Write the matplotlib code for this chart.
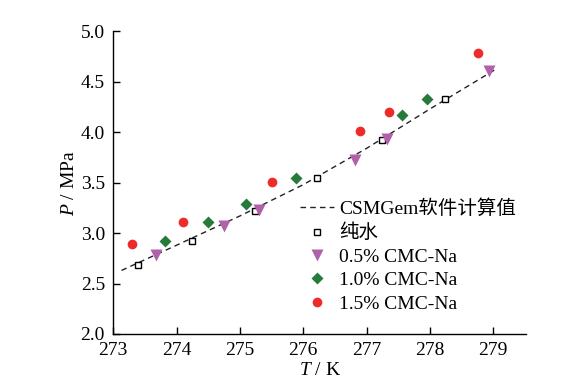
import matplotlib
matplotlib.use("Agg")
import matplotlib.pyplot as plt

plt.rcParams['font.family'] = ['Liberation Serif', 'Noto Sans CJK SC']
plt.rcParams['mathtext.fontset'] = 'custom'
plt.rcParams['mathtext.it'] = 'Liberation Serif:italic'
plt.rcParams['mathtext.rm'] = 'Liberation Serif'

# CSMGem calculated curve
calc_T = [273.13, 274.0, 275.0, 276.0, 277.0, 278.0, 279.03]
calc_P = [2.63, 2.88, 3.17, 3.48, 3.84, 4.23, 4.62]

water_T = [273.39, 274.24, 275.24, 276.22, 277.24, 278.24]
water_P = [2.68, 2.92, 3.22, 3.55, 3.92, 4.33]

cmc05_T = [273.68, 274.75, 275.30, 276.82, 277.33, 278.93]
cmc05_P = [2.78, 3.07, 3.23, 3.72, 3.93, 4.61]

cmc10_T = [273.81, 274.49, 275.09, 275.88, 277.56, 277.96]
cmc10_P = [2.92, 3.11, 3.29, 3.55, 4.17, 4.33]

cmc15_T = [273.30, 274.10, 275.51, 276.89, 277.36, 278.76]
cmc15_P = [2.89, 3.11, 3.51, 4.01, 4.20, 4.79]

labels = ['CSMGem软件计算值', '纯水', '0.5% CMC-Na', '1.0% CMC-Na', '1.5% CMC-Na']
x_ticks = [273, 274, 275, 276, 277, 278, 279]
y_ticks = [2.0, 2.5, 3.0, 3.5, 4.0, 4.5, 5.0]

fig = plt.figure(figsize=(5.75, 3.87), dpi=100)
ax = fig.add_axes([0.197, 0.137, 0.718, 0.782])

ax.plot(calc_T, calc_P, linestyle=(0, (4, 3)), color='#222222', lw=1.0, label=labels[0])
ax.plot(water_T, water_P, 's', ms=5, mfc='white', mec='black', mew=1.0, label=labels[1])
ax.plot(cmc05_T, cmc05_P, 'v', ms=8, color='#b160aa', mec='none', label=labels[2])
ax.plot(cmc10_T, cmc10_P, 'D', ms=6.5, color='#267b3b', mec='none', label=labels[3])
ax.plot(cmc15_T, cmc15_P, 'o', ms=7, color='#ee2b2b', mec='none', label=labels[4])

ax.set_xlim(273, 279.52)
ax.set_ylim(2.0, 5.0)
ax.set_xticks(x_ticks)
ax.set_yticks(y_ticks)
ax.set_yticklabels([f'{v:.1f}' for v in y_ticks])
ax.tick_params(direction='in', length=5, width=1, labelsize=14, pad=6)
for s in ['top', 'right']:
    ax.spines[s].set_visible(False)
for s in ['left', 'bottom']:
    ax.spines[s].set_linewidth(1.0)

ax.set_xlabel(r'$T$ / K', fontsize=14, labelpad=2)
ax.set_ylabel(r'$P$ / MPa', fontsize=14, labelpad=2)

leg = ax.legend(loc='upper left', bbox_to_anchor=(0.42, 0.49), frameon=False,
                fontsize=14, handlelength=1.75, handletextpad=0.25,
                labelspacing=0.3, borderpad=0.2)

fig.savefig('out.png', dpi=100)
